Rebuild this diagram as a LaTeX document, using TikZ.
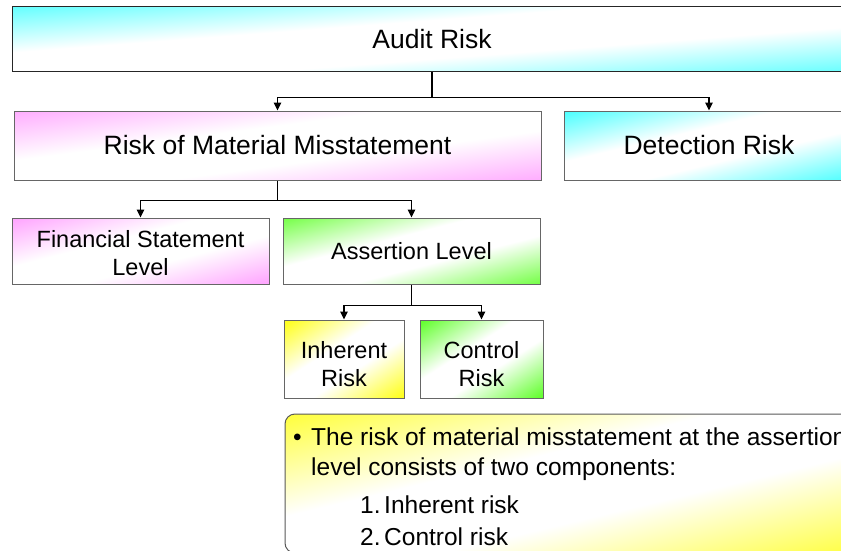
\documentclass[tikz,border=0pt]{standalone}
\usepackage{fontspec}
\setmainfont{Liberation Sans}
\usetikzlibrary{arrows.meta}
\definecolor{cyanA}{HTML}{33FFFF}
\definecolor{pinkA}{HTML}{FF99FF}
\definecolor{greenA}{HTML}{66FF33}
\definecolor{yellowA}{HTML}{FFFF22}
\newcommand{\mkshade}[2]{\pgfdeclareverticalshading{#1}{100bp}{color(0bp)=(#2); color(17bp)=(#2); color(42bp)=(white); color(58bp)=(white); color(83bp)=(#2); color(100bp)=(#2)}}
\mkshade{shcyan}{cyanA}
\mkshade{shpink}{pinkA}
\mkshade{shgreen}{greenA}
\mkshade{shyellow}{yellowA}
\begin{document}
\begin{tikzpicture}[x=1pt,y=-1pt,
  box/.style={draw=black!60, line width=1pt, inner sep=0pt, align=center, text=black},
  grad/.style 2 args={shade, shading=#1, shading angle=#2},
  bigtxt/.style={font=\fontsize{26.5}{30}\selectfont},
  midtxt/.style={font=\fontsize{23.5}{27.5}\selectfont, align=center, inner sep=0pt},
  calltxt/.style={font=\fontsize{24.5}{28}\selectfont, anchor=base west, inner sep=0pt},
  stem/.style={line width=1.6pt},
  conn/.style={line width=1.6pt, -{Triangle[length=8pt,width=7.5pt]}}]
\useasboundingbox (0,0) rectangle (841,551);
\fill[white] (0,0) rectangle (841,551);
% boxes
\node[box, draw=black!85, grad={shcyan}{4.4}, bigtxt, minimum width=840, minimum height=65] (audit) at (432,39.5) {Audit Risk};
\node[box, grad={shpink}{7.5}, bigtxt, minimum width=527, minimum height=69] (rmm) at (277.5,145.5) {Risk of Material Misstatement};
\node[box, grad={shcyan}{13.4}, bigtxt, minimum width=290, minimum height=69] (det) at (709,145.5) {Detection Risk};
\node[box, grad={shpink}{14.4}, minimum width=257, minimum height=66] (fsl) at (140.5,251) {};
\node[midtxt] (fslt) at ([yshift=-2pt]fsl.center) {Financial Statement\\Level};
\node[box, grad={shgreen}{14.4}, midtxt, minimum width=257, minimum height=66] (al) at (411.5,251) {Assertion Level};
\node[box, grad={shyellow}{33}, minimum width=120, minimum height=78] (ir) at (344,359) {};
\node[midtxt] (irt) at ([yshift=-5pt]ir.center) {Inherent\\Risk};
\node[box, grad={shgreen}{32.4}, minimum width=123, minimum height=78] (cr) at (481.5,359) {};
\node[midtxt] (crt) at ([yshift=-5pt]cr.center) {Control\\Risk};
% callout
\path[draw=black!65, line width=1pt, rounded corners=10pt, grad={shyellow}{13.4}] (285,414) rectangle (870,553);
\node[calltxt] (b1) at (293,445) {•};
\node[calltxt] (l1) at (311,445) {The risk of material misstatement at the assertion};
\node[calltxt] (l2) at (311,475) {level consists of two components:};
\node[calltxt] (n1) at (360,513) {1.};
\node[calltxt] (t1) at (384,513) {Inherent risk};
\node[calltxt] (n2) at (360,545) {2.};
\node[calltxt] (t2) at (384,545) {Control risk};
% connectors
\draw[stem] (audit.south) -- ++(0,25) coordinate (j1);
\draw[conn] (j1) -| (rmm.north);
\draw[conn] (j1) -| (det.north);
\draw[stem] (rmm.south) -- ++(0,20) coordinate (j2);
\draw[conn] (j2) -| (fsl.north);
\draw[conn] (j2) -| (al.north);
\draw[stem] (al.south) -- ++(0,21) coordinate (j3);
\draw[conn] (j3) -| (ir.north);
\draw[conn] (j3) -| (cr.north);
\end{tikzpicture}
\end{document}
